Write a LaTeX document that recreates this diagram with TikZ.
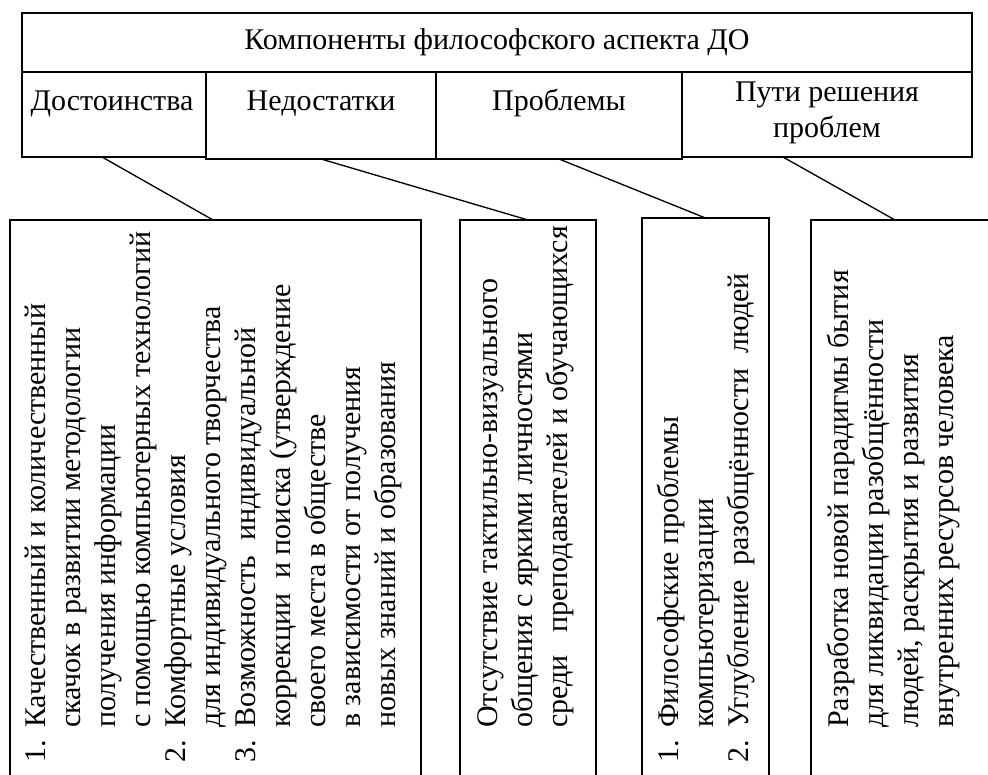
\documentclass[tikz,border=0pt]{standalone}
\usepackage{fontspec}
\setmainfont{Liberation Serif}
\usetikzlibrary{positioning,calc}

\newcommand{\hdfont}{\fontsize{22.5}{26.25}\selectfont}
\newcommand{\bxfont}{\fontsize{22.5}{26.25}\selectfont}
\newlength{\numind}\setlength{\numind}{26.25pt}
\newcommand{\itemno}[1]{\makebox[\numind][l]{#1}}
\newcommand{\contind}{\hspace*{\numind}}

\begin{document}
\begin{tikzpicture}[x=0.75pt,y=-0.75pt,
    cell/.style={draw, line width=2pt, inner sep=0pt, outer sep=0pt, anchor=north west},
    hdtext/.style={font=\hdfont, align=center, inner sep=0pt, anchor=base},
    vtext/.style={font=\bxfont, align=left, inner sep=0pt, rotate=90, anchor=base west},
    link/.style={line width=1pt}]
  \clip (0,0) rectangle (988,774);
  % шапка таблицы
  \node[cell, font=\hdfont, anchor=center, minimum width=712.5pt, minimum height=44.25pt] (title) at (497,42.5) {Компоненты философского аспекта ДО};
  \node[cell, minimum width=138pt, minimum height=63.75pt] (dost) at (title.south west) {};
  \node[cell, minimum width=172.5pt, minimum height=65.25pt] (nedo) at (dost.north east) {};
  \node[cell, minimum width=184.5pt, minimum height=65.25pt] (prob) at (nedo.north east) {};
  \node[cell, minimum width=217.5pt, minimum height=63.75pt] (puti) at (prob.north east) {};
  \node[hdtext] (tdost) at ($(dost.north)+(-2,38)$) {Достоинства};
  \node[hdtext] (tnedo) at ($(nedo.north)+(0,38)$) {Недостатки};
  \node[hdtext] (tprob) at ($(prob.north)+(0,38)$) {Проблемы};
  \node[hdtext] (tputi) at ($(puti.north)+(0,65)$) {Пути решения\\проблем};
  % нижние блоки (текст привязан к последней строке)
  \node[cell, minimum width=308.25pt, minimum height=450pt] (bdost) at (10,220) {};
  \node[cell, minimum width=102pt, minimum height=450pt] (bnedo) at (460,220) {};
  \node[cell, minimum width=95.25pt, minimum height=450pt] (bprob) at (642,218) {};
  \node[cell, minimum width=150pt, minimum height=450pt] (bputi) at (811,220) {};
  \node[vtext] (tbdost) at ($(bdost.north west)+(385,543)$) {%
    \itemno{1.}Качественный и количественный\\
    \contind скачок в развитии методологии\\
    \contind получения информации\\
    \contind с помощью компьютерных технологий\\
    \itemno{2.}Комфортные условия\\
    \contind для индивидуального творчества\\
    \itemno{3.}Возможность~~индивидуальной\\
    \contind коррекции~~и поиска (утверждение\\
    \contind своего места в обществе\\
    \contind в зависимости от получения\\
    \contind новых знаний и образования};
  \node[vtext] (tbnedo) at ($(bnedo.north west)+(107,508)$) {%
    Отсутствие тактильно-визуального\\
    общения с яркими личностями\\
    среди~~~преподавателей и обучающихся};
  \node[vtext] (tbprob) at ($(bprob.north west)+(106,545)$) {%
    \itemno{1.}Философские проблемы\\
    \contind компьютеризации\\
    \itemno{2.}Углубление~~разобщённости~~людей};
  \node[vtext] (tbputi) at ($(bputi.north west)+(142,508)$) {%
    Разработка новой парадигмы бытия\\
    для ликвидации разобщённости\\
    людей, раскрытия и развития\\
    внутренних ресурсов человека};
  % связи
  \draw[link] ($(dost.south west)!0.435!(dost.south east)$) -- ($(bdost.north west)!0.494!(bdost.north east)$);
  \draw[link] (nedo.south) -- (bnedo.north);
  \draw[link] (prob.south) -- (bprob.north);
  \draw[link] ($(puti.south west)!0.348!(puti.south east)$) -- ($(bputi.north west)!0.42!(bputi.north east)$);
\end{tikzpicture}
\end{document}
